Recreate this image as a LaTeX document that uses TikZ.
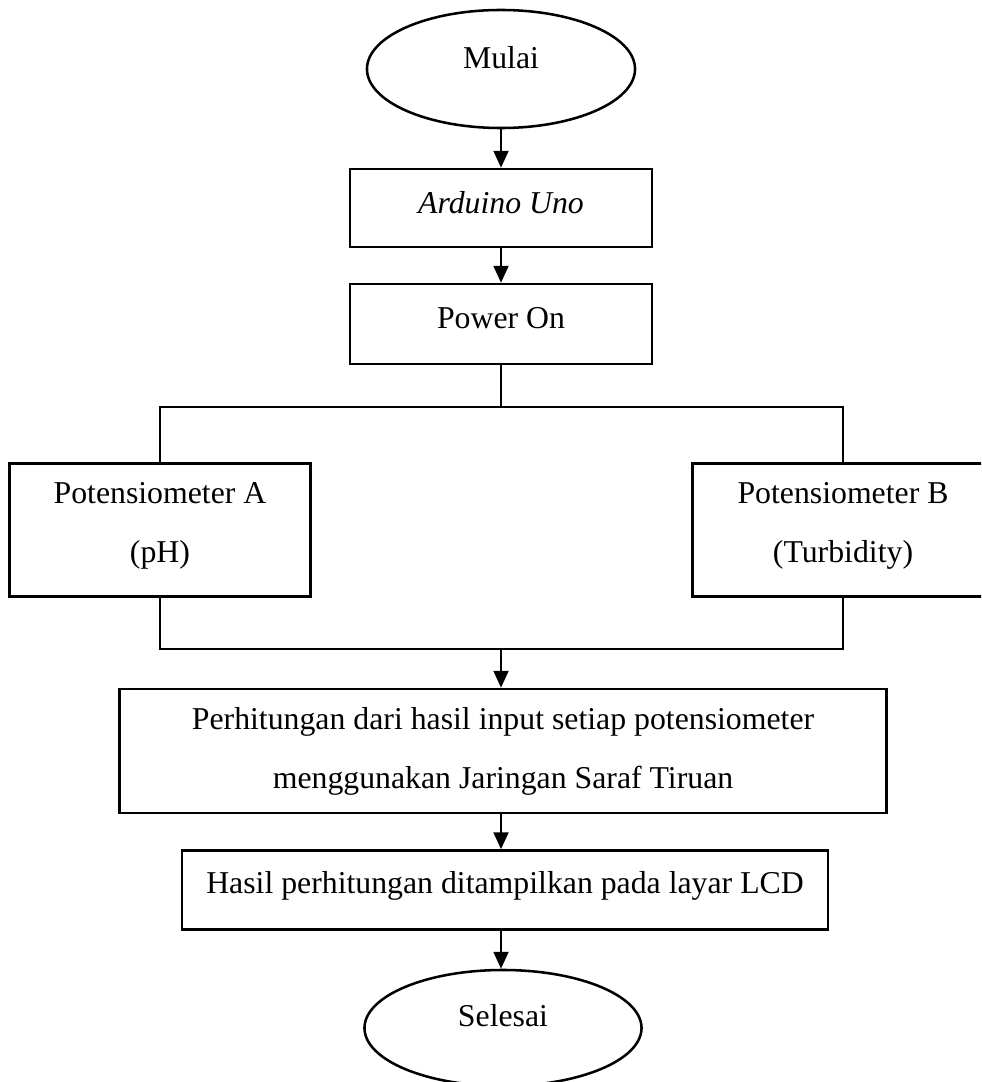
\documentclass[tikz,border=0pt]{standalone}
\usepackage{fontspec}
\setmainfont{Liberation Serif}
\usetikzlibrary{shapes.geometric,arrows.meta}

\tikzset{
  terminal/.style={draw, ellipse, line width=1.8pt, inner sep=0pt},
  process/.style={draw, rectangle, line width=1.8pt, inner sep=0pt},
  txt/.style={align=center, font=\fontsize{22.6}{42}\selectfont},
  flow/.style={line width=1.8pt, -{Triangle[length=12pt,width=10.5pt]}},
  wire/.style={line width=1.8pt},
}

\begin{document}
\begin{tikzpicture}[x=0.025cm, y=-0.025cm]
  \clip (0,0) rectangle (981,1082);

  % Start, board and power
  \node[terminal, minimum width=6.7cm, minimum height=2.95cm,
        label={[txt, yshift=8pt]center:Mulai}] (mulai) at (501,69) {};
  \node[process, minimum width=7.55cm, minimum height=1.95cm,
        label={[txt, yshift=4pt]center:\textit{Arduino Uno}}] (arduino) at (501,208) {};
  \node[process, minimum width=7.55cm, minimum height=2cm,
        label={[txt, yshift=4pt]center:Power On}] (power) at (501,324) {};

  % The two inputs
  \coordinate (split) at (501,407);
  \node[process, minimum width=7.525cm, minimum height=3.325cm,
        label={[txt, yshift=3pt]center:{Potensiometer A\\(pH)}}] (potA) at (160,530) {};
  \node[process, minimum width=7.525cm, minimum height=3.325cm,
        label={[txt, yshift=3pt]center:{Potensiometer B\\(Turbidity)}}] (potB) at (843,530) {};
  \coordinate (merge) at (501,649);

  % Processing, display and end
  \node[process, minimum width=19.175cm, minimum height=3.1cm,
        label={[txt, yshift=0pt]center:{Perhitungan dari hasil input setiap potensiometer\\menggunakan Jaringan Saraf Tiruan}}] (calc) at (503,751) {};
  \node[process, minimum width=16.15cm, minimum height=1.975cm,
        label={[txt, yshift=3pt]center:Hasil perhitungan ditampilkan pada layar LCD}] (hasil) at (505,890) {};
  \node[terminal, minimum width=6.925cm, minimum height=2.9cm,
        label={[txt, yshift=9pt]center:Selesai}] (selesai) at (503,1028) {};

  % Connectors
  \draw[flow] (mulai) -- (arduino);
  \draw[flow] (arduino) -- (power);
  \draw[wire] (power.south) -- (split);
  \draw[wire] (potA.north) |- (split) -| (potB.north);
  \draw[wire] (potA.south) |- (merge) -| (potB.south);
  \draw[flow] (merge) -- (merge |- calc.north);
  \draw[flow] (calc.south -| merge) -- (merge |- hasil.north);
  \draw[flow] (hasil.south -| merge) -- (merge |- selesai.north);
\end{tikzpicture}
\end{document}
